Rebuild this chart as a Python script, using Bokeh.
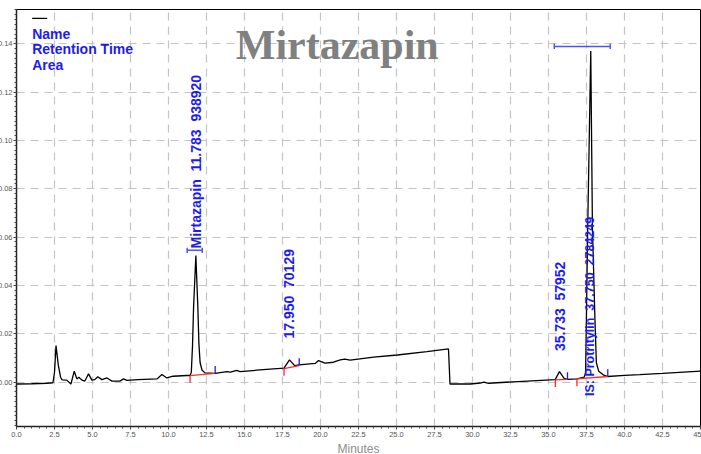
import math
from bokeh.plotting import figure
from bokeh.models import Range1d, FixedTicker, PrintfTickFormatter, ColumnDataSource
from bokeh.core.properties import value
from bokeh.embed import file_html
from bokeh.resources import INLINE

# ---- chromatogram trace (minutes, absorbance units) ----
trace_t = [0.0, 1.0, 2.0, 2.4, 2.5, 2.6, 2.75, 2.9, 3.0, 3.3, 3.58, 3.8, 3.97, 4.1, 4.3,
           4.5, 4.74, 4.96, 5.15, 5.35, 5.62, 5.95, 6.28, 6.8, 7.04, 7.26, 8.0, 9.24,
           9.57, 9.89, 10.3, 11.2, 11.42, 11.5, 11.58, 11.65, 11.8, 11.93, 12.0, 12.08,
           12.2, 12.4, 13.07, 13.84, 14.07, 14.5, 14.7, 16.0, 17.6, 17.96, 18.3, 18.6,
           19.65, 19.87, 20.3, 20.85, 21.3, 21.6, 21.95, 23.5, 25.05, 27.0, 28.42, 28.52,
           29.85, 30.5, 30.75, 31.05, 33.0, 35.44, 35.72, 36.03, 36.25, 36.87, 37.35,
           37.44, 37.49, 37.58, 37.78, 37.89, 38.06, 38.15, 38.3, 38.6, 38.9, 40.0, 41.0,
           42.5, 45.0]
trace_v = [-0.0008, -0.0007, -0.0005, -0.0003, 0.004, 0.0151, 0.007, 0.002, 0.0009, 0.0008,
           -0.0008, 0.0045, 0.0013, 0.0020, 0.0008, 0.0004, 0.0034, 0.0008, 0.0010, 0.0022,
           0.0010, 0.0017, 0.0004, 0.0004, 0.0013, 0.0007, 0.0010, 0.0013, 0.0031, 0.0017,
           0.0024, 0.0027, 0.0027, 0.004, 0.015, 0.031, 0.0524, 0.031, 0.016, 0.008, 0.005,
           0.0038, 0.0036, 0.0043, 0.0041, 0.0048, 0.0043, 0.0050, 0.0058, 0.0092, 0.0068,
           0.0071, 0.0077, 0.0089, 0.0078, 0.0082, 0.0092, 0.0095, 0.0091, 0.0103, 0.0112,
           0.0126, 0.0137, -0.0008, -0.0008, -0.0004, 0.0, -0.0005, 0.0002, 0.0010, 0.0043,
           0.0015, 0.0011, 0.0013, 0.0020, 0.004, 0.025, 0.064, 0.137, 0.064, 0.025, 0.008,
           0.0045, 0.003, 0.0023, 0.0028, 0.0031, 0.0036, 0.0045]

# ---- integrated peaks ----
peak_names = ["Mirtazapin", "", "", "IS: Protritylin"]
peak_rt = [11.783, 17.950, 35.733, 37.750]
peak_area = [938920, 70129, 57952, 2784249]
# integration baselines: start / end (time, signal)
base_t0 = [11.42, 17.6, 35.45, 36.87]
base_v0 = [0.0027, 0.0056, 0.0009, 0.0013]
base_t1 = [13.07, 18.6, 36.25, 38.9]
base_v1 = [0.0036, 0.0068, 0.0011, 0.0023]

# peak-width markers for the named peaks (start, end, level)
width_t0 = [11.23, 35.38]
width_t1 = [12.22, 39.06]
width_v = [0.0545, 0.1389]

x_ticks = [i * 2.5 for i in range(19)]
y_ticks = [0.0, 0.02, 0.04, 0.06, 0.08, 0.10, 0.12, 0.14]

BLUE = "#1c1cf0"
RED = "#ff2a2a"
SANS = "Liberation Sans"

p = figure(width=715, height=458, output_backend="svg", toolbar_location=None,
           x_range=Range1d(0, 45), y_range=Range1d(-0.0184, 0.1542),
           min_border_left=16, min_border_right=9, min_border_top=9, min_border_bottom=20)
# the frame sits flush with the page edges; the outer tick labels run off the page
p.margin = (0, -8, -4, -6)
p.background_fill_color = "white"
p.border_fill_color = "white"
p.outline_line_color = "black"
p.outline_line_width = 1

# axes
p.xaxis.ticker = FixedTicker(ticks=x_ticks, minor_ticks=[i * 0.5 for i in range(91)])
p.yaxis.ticker = FixedTicker(ticks=y_ticks, minor_ticks=[-0.018 + i * 0.002 for i in range(87)])
p.xaxis.formatter = PrintfTickFormatter(format="%.1f")
p.yaxis.formatter = PrintfTickFormatter(format="%.2f")
for ax in (p.xaxis[0], p.yaxis[0]):
    ax.axis_line_color = "#222222"
    ax.axis_line_width = 1.5
    ax.major_tick_line_color = "#444444"
    ax.minor_tick_line_color = "#444444"
    ax.major_tick_out = 3
    ax.major_tick_in = 0
    ax.minor_tick_out = 2
    ax.minor_tick_in = 0
    ax.major_label_text_font = SANS
    ax.major_label_text_font_size = "7.5px"
    ax.major_label_text_color = "#555555"
    ax.major_label_standoff = 1
p.xaxis.major_label_standoff = 2
p.xaxis.axis_label = "Minutes"
p.xaxis.axis_label_text_font = SANS
p.xaxis.axis_label_text_font_size = "12px"
p.xaxis.axis_label_text_font_style = "normal"
p.xaxis.axis_label_text_color = "#8c8c8c"
p.xaxis.axis_label_standoff = 2

# dashed grid
for g in (p.xgrid[0], p.ygrid[0]):
    g.grid_line_color = "#c4c4c4"
    g.grid_line_dash = "8 6"
    g.grid_line_width = 1.2

# trace
p.line(trace_t, trace_v, line_color="black", line_width=1.3)

# integration baselines with start (red) and end (blue) tick marks
tick = 0.003
p.segment(base_t0, base_v0, base_t1, base_v1, line_color=RED, line_width=1.3)
p.segment(base_t0, base_v0, base_t0, [v - tick for v in base_v0], line_color=RED, line_width=1.3)
p.segment(base_t1, base_v1, base_t1, [v + tick for v in base_v1], line_color=BLUE, line_width=1.3)

# peak-width markers
cap = 0.0011
p.segment(width_t0, width_v, width_t1, width_v, line_color="#5050ff", line_width=1.5)
p.segment(width_t0 + width_t1, [v - cap for v in width_v] * 2,
          width_t0 + width_t1, [v + cap for v in width_v] * 2, line_color="#5050ff", line_width=1.5)

# vertical peak labels: name, retention time, area
label_y = [0.0553, 0.018, 0.0128, -0.0058]
label_size = ["14px", "14px", "14px", "12.5px"]
texts = []
for name, rt, area in zip(peak_names, peak_rt, peak_area):
    parts = ([name] if name else []) + [f"{rt:.3f}", f"{area}"]
    texts.append("\u00a0\u00a0".join(parts))
src = ColumnDataSource(dict(x=peak_rt, y=label_y, text=texts, size=label_size))
p.text(x="x", y="y", text="text", source=src, angle=math.pi / 2,
       text_align="left", text_baseline="middle", text_color=BLUE,
       text_font=value(SANS), text_font_style="bold", text_font_size="size")

# legend block
p.line([1.03, 2.02], [0.1505, 0.1505], line_color="black", line_width=1.3)
p.text(x=[1.03, 1.03, 1.03], y=[0.1439, 0.1377, 0.1311],
       text=["Name", "Retention Time", "Area"], text_align="left", text_baseline="middle",
       text_color=BLUE, text_font=value(SANS), text_font_style="bold", text_font_size="14px")

# title inside the plot area
p.text(x=[21.1], y=[0.1393], text=["Mirtazapin"], text_align="center", text_baseline="middle",
       text_color="#808080", text_font=value("Liberation Serif"), text_font_style="bold",
       text_font_size="42px")

open("out.html", "w").write(file_html(p, INLINE))
